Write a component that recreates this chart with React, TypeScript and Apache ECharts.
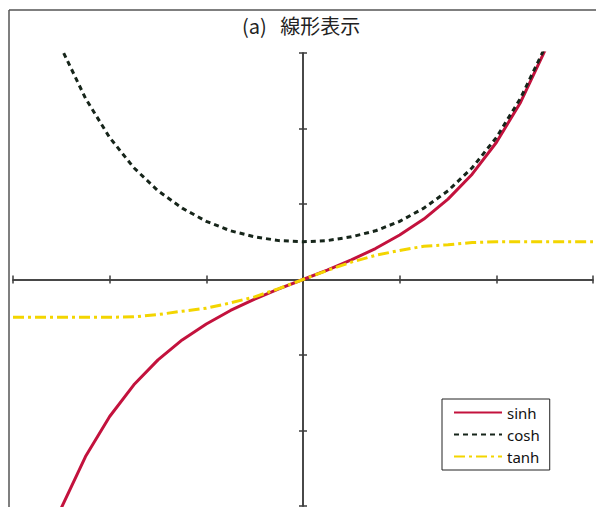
import React, { useEffect, useRef } from "react";
import * as echarts from "echarts";

// Sample points along the x axis (step 0.25)
const X_VALUES = [
  -3, -2.75, -2.5, -2.25, -2, -1.75, -1.5, -1.25, -1, -0.75, -0.5, -0.25, 0,
  0.25, 0.5, 0.75, 1, 1.25, 1.5, 1.75, 2, 2.25, 2.5, 2.75, 3,
];

const SINH = [
  -10.02, -7.79, -6.05, -4.69, -3.63, -2.79, -2.13, -1.6, -1.18, -0.82, -0.52,
  -0.25, 0, 0.25, 0.52, 0.82, 1.18, 1.6, 2.13, 2.79, 3.63, 4.69, 6.05, 7.79,
  10.02,
];

const COSH = [
  10.07, 7.85, 6.13, 4.8, 3.76, 2.96, 2.35, 1.89, 1.54, 1.29, 1.13, 1.03, 1,
  1.03, 1.13, 1.29, 1.54, 1.89, 2.35, 2.96, 3.76, 4.8, 6.13, 7.85, 10.07,
];

const TANH = [
  -1, -1, -1, -1, -1, -0.99, -0.93, -0.84, -0.76, -0.62, -0.46, -0.24, 0, 0.24,
  0.46, 0.64, 0.77, 0.88, 0.92, 0.98, 1, 1, 1, 1, 1,
];

const SERIES_NAMES = ["sinh", "cosh", "tanh"];
const TITLE = "(a)   線形表示";

const toPairs = (ys: number[]) => X_VALUES.map((x, i) => [x, ys[i]]);

const AXIS_COLOR = "#3c3c3c";

const xAxisBase = (position: "top" | "bottom") => ({
  type: "value" as const,
  min: -3,
  max: 3,
  interval: 1,
  position,
  axisLine: { show: true, onZero: true, lineStyle: { color: AXIS_COLOR, width: 1.5 } },
  axisTick: { show: true, length: 4, lineStyle: { color: AXIS_COLOR, width: 1.5 } },
  axisLabel: { show: false },
  splitLine: { show: false },
});

const yAxisBase = (position: "left" | "right") => ({
  type: "value" as const,
  min: -6,
  max: 6,
  interval: 2,
  position,
  axisLine: { show: true, onZero: true, lineStyle: { color: AXIS_COLOR, width: 1.5 } },
  axisTick: { show: true, length: 4, lineStyle: { color: AXIS_COLOR, width: 1.5 } },
  axisLabel: { show: false },
  splitLine: { show: false },
});

export default function App() {
  const ref = useRef<HTMLDivElement>(null);

  useEffect(() => {
    if (!ref.current) return;
    const chart = echarts.init(ref.current, undefined, { renderer: "svg" });
    chart.setOption({
      animation: false,
      backgroundColor: "#ffffff",
      title: {
        text: TITLE,
        left: 242,
        top: 15,
        padding: 0,
        textStyle: {
          fontFamily: "Noto Sans CJK JP",
          fontSize: 20,
          fontWeight: "normal",
          color: "#222222",
        },
      },
      grid: { left: 13, right: 3, top: 53, bottom: 1, containLabel: false },
      xAxis: [xAxisBase("bottom"), xAxisBase("top")],
      yAxis: [yAxisBase("left"), yAxisBase("right")],
      legend: {
        orient: "vertical",
        left: 442,
        top: 399,
        data: SERIES_NAMES,
        itemWidth: 48,
        itemHeight: 14,
        itemGap: 7,
        padding: [6, 10, 6, 11],
        borderColor: "#222222",
        borderWidth: 1,
        backgroundColor: "#ffffff",
        itemStyle: { opacity: 0 },
        textStyle: { fontFamily: "Noto Sans", fontSize: 15, color: "#111111" },
      },
      graphic: [
        {
          type: "line",
          shape: { x1: 9, y1: 10, x2: 596, y2: 10 },
          style: { stroke: "#555555", lineWidth: 1.5 },
        },
        {
          type: "line",
          shape: { x1: 9, y1: 10, x2: 9, y2: 507 },
          style: { stroke: "#555555", lineWidth: 1.5 },
        },
      ],
      series: [
        {
          name: SERIES_NAMES[0],
          type: "line",
          data: toPairs(SINH),
          symbol: "none",
          clip: true,
          lineStyle: { color: "#c3123d", width: 3 },
          itemStyle: { color: "#c3123d" },
          z: 3,
        },
        {
          name: SERIES_NAMES[1],
          type: "line",
          data: toPairs(COSH),
          symbol: "none",
          clip: true,
          lineStyle: { color: "#16251a", width: 3, type: [5, 4] },
          itemStyle: { color: "#16251a" },
          z: 4,
        },
        {
          name: SERIES_NAMES[2],
          type: "line",
          data: toPairs(TANH),
          symbol: "none",
          clip: true,
          lineStyle: { color: "#f3d500", width: 3, type: [11, 4, 3, 4] },
          itemStyle: { color: "#f3d500" },
          z: 5,
        },
      ],
    });
    return () => chart.dispose();
  }, []);

  return (
    <div
      ref={ref}
      style={{ position: "absolute", left: 0, top: 0, width: 596, height: 507 }}
    />
  );
}
